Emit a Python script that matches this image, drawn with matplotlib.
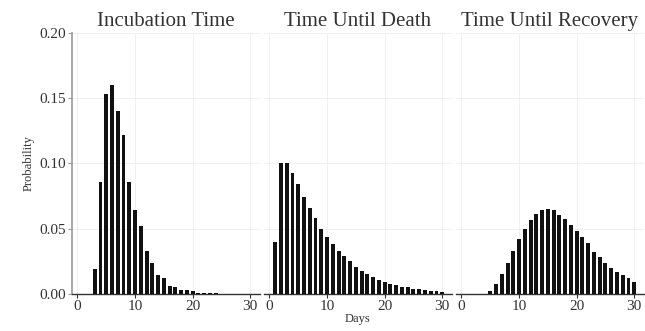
import numpy as np
import matplotlib.pyplot as plt

plt.rcParams['font.family'] = ['Liberation Serif', 'DejaVu Serif']

titles = ["Incubation Time", "Time Until Death", "Time Until Recovery"]

incubation_days = list(range(3, 25))
incubation_prob = [0.019, 0.086, 0.153, 0.160, 0.140, 0.122, 0.086, 0.064, 0.052,
                   0.033, 0.024, 0.0145, 0.0125, 0.0065, 0.005, 0.0028, 0.003,
                   0.0025, 0.001, 0.0007, 0.0005, 0.0004]

death_days = list(range(1, 31))
death_prob = [0.040, 0.100, 0.100, 0.093, 0.084, 0.0746, 0.066, 0.058, 0.050,
              0.044, 0.038, 0.033, 0.029, 0.025, 0.021, 0.018, 0.015, 0.013,
              0.011, 0.0094, 0.008, 0.0069, 0.0056, 0.005, 0.004, 0.0035,
              0.003, 0.0025, 0.002, 0.0015]

recovery_days = list(range(5, 31))
recovery_prob = [0.0026, 0.0077, 0.015, 0.0235, 0.033, 0.042, 0.050, 0.0567,
                 0.0615, 0.0644, 0.065, 0.064, 0.0605, 0.0575, 0.053, 0.048,
                 0.0434, 0.039, 0.0324, 0.028, 0.024, 0.020, 0.017, 0.0146,
                 0.012, 0.009]

x_ticks = [0, 10, 20, 30]
y_ticks = [0.00, 0.05, 0.10, 0.15, 0.20]

series = [(incubation_days, incubation_prob),
          (death_days, death_prob),
          (recovery_days, recovery_prob)]

fig = plt.figure(figsize=(6.45, 3.31), dpi=100)
lefts = [0.1116, 0.4093, 0.707]
axes = []
for i, (days, prob) in enumerate(series):
    ax = fig.add_axes([lefts[i], 0.1118, 0.2915, 0.7885])
    ax.bar(days, prob, width=0.68, color='#111111', edgecolor='none', zorder=3)
    ax.set_xlim(-0.95, 31.7)
    ax.set_ylim(0, 0.2)
    ax.set_xticks(x_ticks)
    ax.set_yticks(y_ticks)
    ax.grid(True, color='#eeeeee', linewidth=0.6, zorder=0)
    for s in ['top', 'right', 'left']:
        ax.spines[s].set_visible(False)
    ax.spines['bottom'].set_color('#333333')
    ax.spines['bottom'].set_linewidth(1.0)
    ax.tick_params(axis='x', length=3, width=0.8, color='#333333',
                   labelsize=11, labelcolor='#333333', pad=1)
    if i == 0:
        ax.spines['left'].set_visible(True)
        ax.spines['left'].set_color('#999999')
        ax.spines['left'].set_linewidth(1.2)
        ax.tick_params(axis='y', length=3, width=0.8, color='#999999',
                       labelsize=11, labelcolor='#333333', pad=1)
        ax.set_yticklabels(["%.2f" % v for v in y_ticks])
        ax.set_ylabel("Probability", fontsize=9, color='#333333', labelpad=4)
    else:
        ax.tick_params(axis='y', length=0, labelleft=False)
    ax.set_title(titles[i], fontsize=15, color='#333333', pad=5)
    axes.append(ax)

axes[1].set_xlabel("Days", fontsize=9, color='#333333', labelpad=0)

fig.savefig("out.png", dpi=100, facecolor='white')
